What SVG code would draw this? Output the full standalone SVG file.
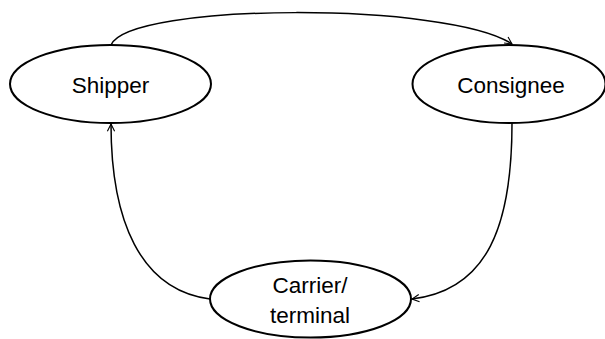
<svg xmlns="http://www.w3.org/2000/svg" width="605" height="339" viewBox="0 0 605 339">
<style>
.node ellipse{fill:#fff;stroke:#000;stroke-width:2}
.node text{font-family:"Liberation Sans",Arial,sans-serif;font-size:22.5px;fill:#000;text-anchor:middle}
.conn path{fill:none;stroke:#000;stroke-width:1.5}
</style>
<defs>
<marker id="arr" viewBox="0 0 10 10" refX="10" refY="5" markerWidth="8" markerHeight="8" markerUnits="userSpaceOnUse" orient="auto" overflow="visible">
<path d="M1,0.5 L10,5 L1,9.5" fill="none" stroke="#000" stroke-width="1.4"/>
</marker>
</defs>
<rect width="605" height="339" fill="#fff"/>
<g id="connectors" class="conn">
<path d="M111,45 C130,2 450,2 512,44" marker-end="url(#arr)"/>
<path d="M210,299 C140,290 111,220 111,124" marker-end="url(#arr)"/>
<path d="M512,123 C512,225 488,290 412,299" marker-end="url(#arr)"/>
</g>
<g id="shipper" class="node">
<ellipse cx="110.5" cy="84" rx="100.5" ry="39"/>
<text x="110.5" y="93">Shipper</text>
</g>
<g id="consignee" class="node">
<ellipse cx="509" cy="84" rx="96.5" ry="39"/>
<text x="511" y="93">Consignee</text>
</g>
<g id="carrier" class="node">
<ellipse cx="310.5" cy="299" rx="100.5" ry="38.5"/>
<text x="310" y="293">Carrier/</text>
<text x="310" y="323">terminal</text>
</g>
</svg>
